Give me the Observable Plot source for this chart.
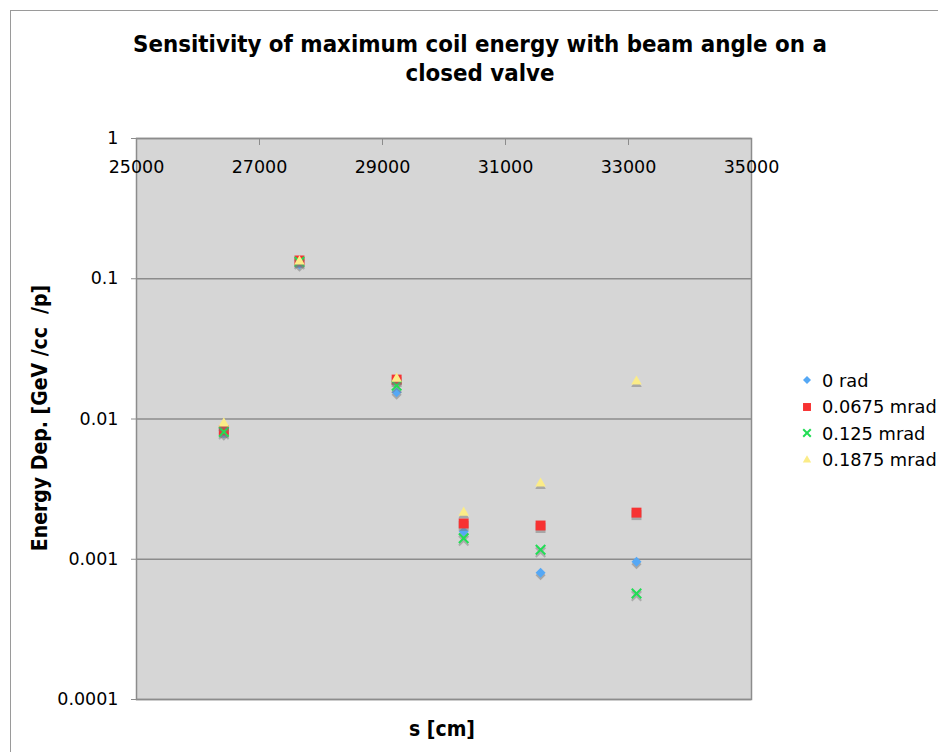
<!DOCTYPE html>
<html>
<head>
<meta charset="utf-8">
<script src="https://cdn.jsdelivr.net/npm/d3@7"></script>
<script src="https://cdn.jsdelivr.net/npm/@observablehq/plot@0.6"></script>
<style>
  html, body { margin: 0; padding: 0; background: #fff; }
  #page { position: relative; width: 938px; height: 752px; overflow: hidden; font-family: "DejaVu Sans", Verdana, sans-serif; }
  #border { position: absolute; left: 10px; top: 10px; width: 940px; height: 760px; border-left: 1px solid #9a9a9a; border-top: 1px solid #9a9a9a; }
  #title { position: absolute; left: 0; top: 30px; width: 960px; text-align: center; font-family: "DejaVu Sans Condensed", "DejaVu Sans", sans-serif; font-weight: bold; font-size: 23.8px; line-height: 29px; color: #000; }
  #chart { position: absolute; left: 0; top: 100px; }
  #ytitle { position: absolute; left: 40px; top: 418px; transform: translate(-50%, -50%) rotate(-90deg); white-space: pre; font-family: "DejaVu Sans Condensed", "DejaVu Sans", sans-serif; font-weight: bold; font-size: 21px; }
  #xtitle { position: absolute; left: 442px; top: 729px; transform: translate(-50%, -50%); white-space: pre; font-family: "DejaVu Sans Condensed", "DejaVu Sans", sans-serif; font-weight: bold; font-size: 21px; }
  #legend { position: absolute; left: 798px; top: 367px; width: 140px; font-size: 17.8px; white-space: nowrap; }
  .lrow { display: flex; align-items: center; height: 26.5px; white-space: nowrap; }
  .lrow svg { flex: none; width: 18px; height: 18px; margin-right: 6px; }
  .lrow span { flex: none; white-space: nowrap; }
</style>
</head>
<body>
<div id="page">
  <div id="border"></div>
  <div id="title">Sensitivity of maximum coil energy with beam angle on a<br>closed valve</div>
  <div id="chart"></div>
  <div id="ytitle">Energy Dep. [GeV /cc  /p]</div>
  <div id="xtitle">s [cm]</div>
  <div id="legend"></div>
</div>
<script>
// Data
const sPositions = [26420, 27650, 29230, 30320, 31570, 33130];
const rad0   = [0.0079, 0.127, 0.0155, 0.00158, 0.00080, 0.00096];
const m0675  = [0.0083, 0.135, 0.0191, 0.00180, 0.00174, 0.00215];
const m125   = [0.0081, 0.132, 0.0173, 0.00141, 0.00117, 0.00057];
const m1875  = [0.0093, 0.133, 0.0194, 0.00215, 0.00347, 0.0185];

const seriesNames = ["0 rad", "0.0675 mrad", "0.125 mrad", "0.1875 mrad"];
const seriesValues = [rad0, m0675, m125, m1875];
const seriesColors = ["#55a8f5", "#f73232", "#22dd55", "#fbec88"];
const seriesSymbols = ["diamond2", "square", "times", "triangle"];
const seriesRadius = [4.5, 5.6, 4.4, 3.9];

const xTicks = [25000, 27000, 29000, 31000, 33000, 35000];
const yTicks = [1, 0.1, 0.01, 0.001, 0.0001];
const yTickLabels = ["1", "0.1", "0.01", "0.001", "0.0001"];

const rows = seriesNames.flatMap((name, k) =>
  sPositions.map((s, i) => ({series: name, k, s, e: seriesValues[k][i]})));

const dotMarks = [];
seriesNames.forEach((name, k) => {
  const data = rows.filter(r => r.k === k);
  const isStroke = seriesSymbols[k] === "times";
  // drop shadow
  dotMarks.push(Plot.dot(data, {
    x: "s", y: "e", symbol: () => seriesSymbols[k], r: seriesRadius[k], dy: 2.5,
    ...(isStroke ? {stroke: "#777", strokeOpacity: 0.45, strokeWidth: 2, fill: "none"} : {fill: "#777", fillOpacity: 0.5, stroke: "none"})
  }));
  dotMarks.push(Plot.dot(data, {
    x: "s", y: "e", symbol: () => seriesSymbols[k], r: seriesRadius[k],
    ...(isStroke ? {stroke: seriesColors[k], strokeWidth: 2, fill: "none"} : {fill: seriesColors[k], stroke: "none"})
  }));
});

const chart = Plot.plot({
  width: 938,
  height: 652,
  marginLeft: 136,
  marginRight: 187,
  marginTop: 38,
  marginBottom: 53,
  style: {fontFamily: "'DejaVu Sans', Verdana, sans-serif", fontSize: "17.5px", color: "#000", background: "transparent", overflow: "visible"},
  x: {domain: [25000, 35000]},
  y: {type: "log", domain: [0.0001, 1]},
  symbol: {type: "identity"},
  marks: [
    Plot.frame({fill: "#d6d6d6", stroke: "none"}),
    Plot.gridY(yTicks, {stroke: "#8c8c8c", strokeOpacity: 1, strokeWidth: 1.5}),
    Plot.frame({stroke: "#8c8c8c", strokeWidth: 1.5, fill: "none"}),
    Plot.axisY(yTicks, {tickSize: 5, tickPadding: 13, stroke: "#8c8c8c", fill: "#000", fontSize: 17.5,
      tickFormat: d => yTickLabels[yTicks.indexOf(d)], label: null}),
    Plot.axisX(xTicks, {anchor: "top", tickSize: -6, tickPadding: -28, stroke: "#8c8c8c", fill: "#000", fontSize: 17.5,
      tickFormat: d3.format("d"), label: null}),
    ...dotMarks
  ]
});
document.getElementById("chart").appendChild(chart);

// Legend
const legend = document.getElementById("legend");
seriesNames.forEach((name, k) => {
  const row = document.createElement("div");
  row.className = "lrow";
  const sym = {diamond2: d3.symbolDiamond2, square: d3.symbolSquare, times: d3.symbolTimes, triangle: d3.symbolTriangle}[seriesSymbols[k]];
  const size = Math.PI * (seriesRadius[k] * 0.8) ** 2;
  const path = d3.symbol(sym, size)();
  const isStroke = seriesSymbols[k] === "times";
  row.innerHTML = `<svg viewBox="-9 -9 18 18"><path d="${path}" ${isStroke ? `stroke="${seriesColors[k]}" stroke-width="2" fill="none"` : `fill="${seriesColors[k]}"`}/></svg><span>${name}</span>`;
  legend.appendChild(row);
});
</script>
</body>
</html>
